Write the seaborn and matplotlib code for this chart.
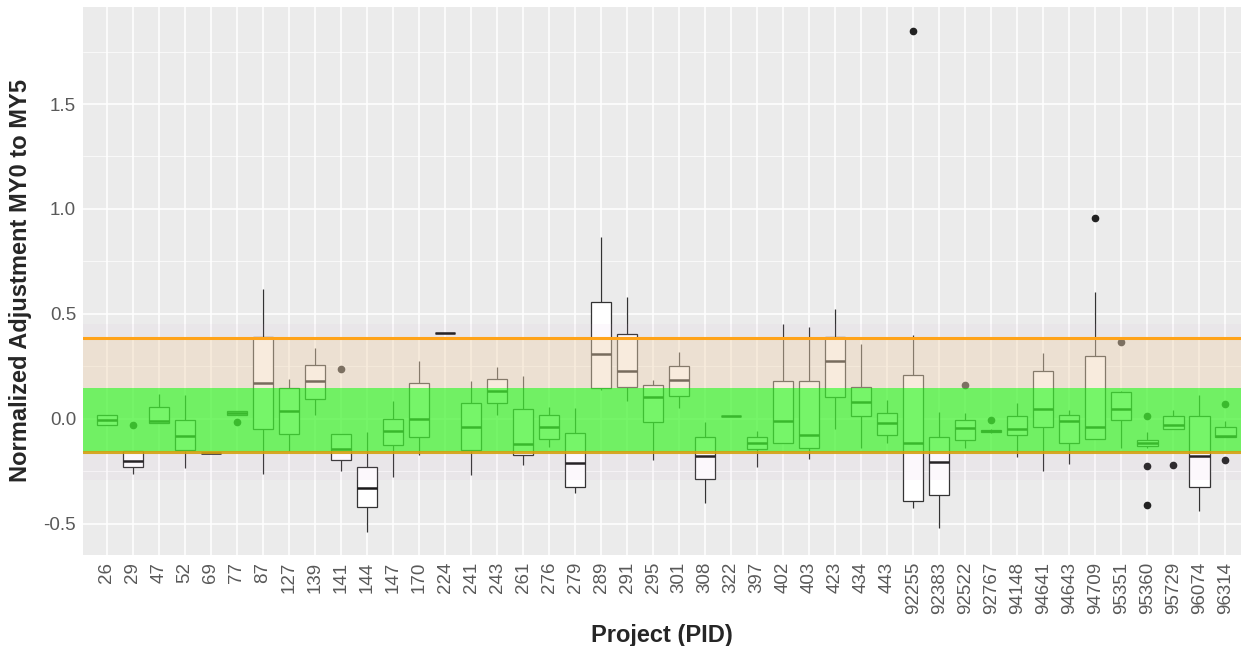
import numpy as np
import pandas as pd
import seaborn as sns
import matplotlib.pyplot as plt
from matplotlib.ticker import MultipleLocator

# Projects on the x axis
pids = ["26", "29", "47", "52", "69", "77", "87", "127", "139", "141", "144",
        "147", "170", "224", "241", "243", "261", "276", "279", "289", "291",
        "295", "301", "308", "322", "397", "402", "403", "423", "434", "443",
        "92255", "92383", "92522", "92767", "94148", "94641", "94643", "94709",
        "95351", "95360", "95729", "96074", "96314"]

# box summaries (lower whisker, q1, median, q3, upper whisker)
whis_lo = [-0.03, -0.26, -0.02, -0.235, -0.16, 0.02, -0.26, -0.151, 0.019, -0.246, -0.54,
           -0.278, -0.171, 0.41, -0.267, 0.019, -0.219, -0.132, -0.354, 0.14, 0.086,
           -0.195, 0.051, -0.40, 0.016, -0.227, -0.113, -0.192, -0.049, -0.14, -0.116,
           -0.425, -0.52, -0.14, -0.065, -0.179, -0.25, -0.216, -0.097,
           -0.14, -0.14, -0.049, -0.437, -0.087]
q1 = [-0.03, -0.23, -0.02, -0.148, -0.16, 0.02, -0.048, -0.071, 0.095, -0.195, -0.42,
      -0.124, -0.084, 0.41, -0.148, 0.075, -0.171, -0.095, -0.325, 0.146, 0.154,
      -0.016, 0.111, -0.286, 0.016, -0.143, -0.113, -0.14, 0.106, 0.014, -0.076,
      -0.39, -0.362, -0.10, -0.063, -0.076, -0.04, -0.116, -0.097,
      -0.005, -0.13, -0.049, -0.325, -0.087]
med = [-0.005, -0.20, -0.012, -0.08, -0.16, 0.03, 0.173, 0.038, 0.182, -0.145, -0.33,
       -0.057, -0.002, 0.41, -0.037, 0.135, -0.119, -0.037, -0.208, 0.308, 0.23,
       0.106, 0.186, -0.175, 0.016, -0.113, -0.01, -0.076, 0.276, 0.079, -0.021,
       -0.113, -0.203, -0.044, -0.058, -0.049, 0.048, -0.008, -0.04,
       0.046, -0.115, -0.029, -0.176, -0.081]
q3 = [0.02, -0.155, 0.058, -0.005, -0.16, 0.038, 0.39, 0.146, 0.257, -0.073, -0.23,
      0.0, 0.17, 0.41, 0.078, 0.19, 0.048, 0.019, -0.065, 0.556, 0.405,
      0.162, 0.254, -0.087, 0.016, -0.084, 0.181, 0.181, 0.392, 0.154, 0.03,
      0.21, -0.087, -0.005, -0.053, 0.014, 0.229, 0.019, 0.30,
      0.127, -0.098, 0.014, 0.014, -0.037]
whis_hi = [0.02, -0.155, 0.12, 0.114, -0.16, 0.038, 0.62, 0.19, 0.337, -0.073, -0.064,
           0.087, 0.276, 0.41, 0.181, 0.249, 0.206, 0.056, 0.051, 0.865, 0.58,
           0.186, 0.317, -0.013, 0.016, -0.056, 0.45, 0.437, 0.524, 0.357, 0.09,
           0.40, 0.035, 0.027, -0.05, 0.075, 0.313, 0.043, 0.606,
           0.135, -0.06, 0.043, 0.114, -0.008]

# outlier points
out_pid = ["29", "77", "141", "92255", "92522", "92767", "94709", "95351",
           "95360", "95360", "95360", "95729", "96314", "96314"]
out_val = [-0.03, -0.013, 0.238, 1.85, 0.162, -0.005, 0.956, 0.365,
           0.014, -0.222, -0.41, -0.219, 0.071, -0.195]

# reference bands
green_band = (-0.157, 0.148)
tan_band = (-0.157, 0.386)
orange_lines = [0.386, -0.157]

# long table the boxplot can digest: the summaries, with quartiles repeated
rows = []
for i, p in enumerate(pids):
    vals = [whis_lo[i]] + [q1[i]] * 20 + [med[i]] * 20 + [q3[i]] * 20 + [whis_hi[i]]
    rows += [(p, v) for v in vals]
rows += list(zip(out_pid, out_val))
df = pd.DataFrame(rows, columns=["pid", "value"])

sns.set_theme(style="darkgrid")
plt.rcParams["font.family"] = ["Liberation Sans", "DejaVu Sans"]
plt.rcParams["axes.unicode_minus"] = False

fig = plt.figure(figsize=(12.49, 6.46), dpi=100)
ax = fig.add_axes([83 / 1249, 1 - 555 / 646, (1241 - 83) / 1249, (555 - 7) / 646])
ax.set_facecolor("#EBEBEB")

sns.boxplot(data=df, x="pid", y="value", order=pids, color="white", saturation=1,
            width=0.78, linewidth=0.9, linecolor="#333333", showcaps=False,
            medianprops=dict(color="#1a1a1a", linewidth=1.8),
            flierprops=dict(marker="o", markersize=4.5, markerfacecolor="#222222",
                            markeredgecolor="#222222"),
            ax=ax)

# bands drawn over the boxes, like in the original
ax.axhspan(-0.29, 0.45, color="#D9A8D9", alpha=0.07, lw=0, zorder=5)
ax.axhspan(*tan_band, color="#F2D9B0", alpha=0.4, lw=0, zorder=5)
ax.axhspan(*green_band, color="#00FF00", alpha=0.52, lw=0, zorder=6)
ax.axhline(orange_lines[0], color="#FFA31A", lw=2.2, zorder=7)
ax.axhline(orange_lines[1], color="#D4A010", lw=2.2, alpha=0.9, zorder=7)

ax.set_ylim(-0.648, 1.962)
ax.set_xlim(-0.92, 43.6)
ax.yaxis.set_major_locator(MultipleLocator(0.5))
ax.yaxis.set_minor_locator(MultipleLocator(0.25))
ax.set_yticks([-0.5, 0.0, 0.5, 1.0, 1.5])
ax.set_yticklabels(["-0.5", "0.0", "0.5", "1.0", "1.5"])
ax.grid(which="major", color="white", lw=1.1)
ax.grid(which="minor", axis="y", color="white", lw=0.5)
ax.set_axisbelow(True)
for s in ax.spines.values():
    s.set_visible(False)

ax.tick_params(axis="both", which="major", length=3, width=0.8, color="#333333",
               labelcolor="#595959", labelsize=13.5, pad=2)
ax.tick_params(axis="y", which="minor", length=0)
plt.setp(ax.get_xticklabels(), rotation=90, ha="center", va="top")

ax.set_xlabel("Project (PID)", fontsize=17, fontweight="bold", labelpad=7)
ax.set_ylabel("Normalized Adjustment MY0 to MY5", fontsize=17, fontweight="bold", labelpad=8)

fig.savefig("out.png", dpi=100)
